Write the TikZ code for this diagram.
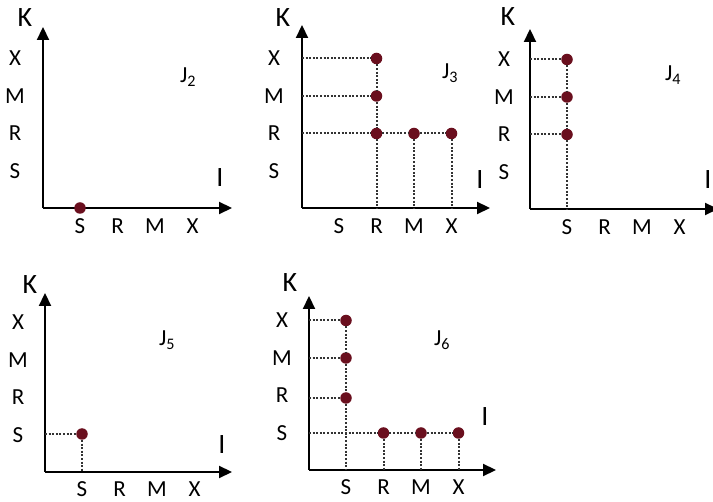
\documentclass[tikz,border=0pt]{standalone}
\usepackage{fontspec}
\setmainfont{Carlito}
\usetikzlibrary{arrows.meta, positioning}
\definecolor{dotred}{HTML}{6A0F1E}

\begin{document}
\begin{tikzpicture}[
    x=1pt, y=-1pt,
    axis/.style = {-{Triangle[length=13pt,width=12pt]}, line width=2.2pt},
    guide/.style = {dash pattern=on 2pt off 1.6pt, line width=2pt, black!80},
    pt/.style = {circle, fill=dotred, inner sep=0pt, minimum size=11.5pt},
    tick/.style = {font=\fontsize{23}{25}\selectfont, inner sep=0pt},
    axlabel/.style = {font=\fontsize{28}{30}\selectfont, inner sep=0pt},
    jlabel/.style = {font=\fontsize{23}{25}\selectfont, inner sep=0pt}
  ]
  \useasboundingbox (0,0) rectangle (713,502);

  % J2
  \begin{scope}[shift={(43,208)}]
    \coordinate (o2) at (0,0);
    \coordinate (k2) at (0,-181);
    \coordinate (i2) at (189,0);
    \draw[axis] (o2) -- (k2);
    \draw[axis] (o2) -- (i2);
    \node[axlabel] (K2) at (-18,-190) {K};
    \node[axlabel] (I2) at (177,-30) {I};
    \node[jlabel]  (J2) at (145,-131) {J\textsubscript{2}};
    \foreach \t/\p in {S/37,R/74.5,M/112,X/149.5} {
      \node[tick] (x2\t) at (\p,18) {\t};
      \node[tick] (y2\t) at (-28,-\p) {\t};
    }
    \node[pt] (p2) at (37,0) {};
  \end{scope}

  % J3
  \begin{scope}[shift={(302,208)}]
    \coordinate (o3) at (0,0);
    \coordinate (k3) at (0,-183);
    \coordinate (i3) at (188,0);
    \draw[axis] (o3) -- (k3);
    \draw[axis] (o3) -- (i3);
    \node[axlabel] (K3) at (-19,-190) {K};
    \node[axlabel] (I3) at (178,-28) {I};
    \node[jlabel]  (J3) at (148,-135) {J\textsubscript{3}};
    \foreach \t/\p in {S/37,R/74.5,M/112,X/149.5} {
      \node[tick] (x3\t) at (\p,18) {\t};
      \node[tick] (y3\t) at (-28,-\p) {\t};
    }
    \node[pt] (p3rx) at (74.5,-149.5) {};
    \node[pt] (p3rm) at (74.5,-112) {};
    \node[pt] (p3rr) at (74.5,-74.5) {};
    \node[pt] (p3mr) at (112,-74.5) {};
    \node[pt] (p3xr) at (149.5,-74.5) {};
    \draw[guide] (o3 |- p3rx) -- (p3rx);
    \draw[guide] (o3 |- p3rm) -- (p3rm);
    \draw[guide] (o3 |- p3rr) -- (p3rr) -- (p3mr) -- (p3xr);
    \draw[guide] (p3rx) -- (p3rm) -- (p3rr) -- (p3rr |- o3);
    \draw[guide] (p3mr) -- (p3mr |- o3);
    \draw[guide] (p3xr) -- (p3xr |- o3);
  \end{scope}

  % J4
  \begin{scope}[shift={(530,209)}]
    \coordinate (o4) at (0,0);
    \coordinate (k4) at (0,-180);
    \coordinate (i4) at (188,0);
    \draw[axis] (o4) -- (k4);
    \draw[axis] (o4) -- (i4);
    \node[axlabel] (K4) at (-22,-192) {K};
    \node[axlabel] (I4) at (178,-29) {I};
    \node[jlabel]  (J4) at (143,-134) {J\textsubscript{4}};
    \foreach \t/\p in {S/37,R/74.5,M/112,X/149.5} {
      \node[tick] (x4\t) at (\p,18) {\t};
      \node[tick] (y4\t) at (-26,-\p) {\t};
    }
    \node[pt] (p4sx) at (37,-149.5) {};
    \node[pt] (p4sm) at (37,-112) {};
    \node[pt] (p4sr) at (37,-74.5) {};
    \draw[guide] (o4 |- p4sx) -- (p4sx);
    \draw[guide] (o4 |- p4sm) -- (p4sm);
    \draw[guide] (o4 |- p4sr) -- (p4sr);
    \draw[guide] (p4sx) -- (p4sm) -- (p4sr) -- (p4sr |- o4);
  \end{scope}

  % J5
  \begin{scope}[shift={(45,472)}]
    \coordinate (o5) at (0,0);
    \coordinate (k5) at (0,-179);
    \coordinate (i5) at (187,0);
    \draw[axis] (o5) -- (k5);
    \draw[axis] (o5) -- (i5);
    \node[axlabel] (K5) at (-15,-187) {K};
    \node[axlabel] (I5) at (177,-27) {I};
    \node[jlabel]  (J5) at (122,-132) {J\textsubscript{5}};
    \foreach \t/\p in {S/37,R/74.5,M/112,X/149.5} {
      \node[tick] (x5\t) at (\p,17) {\t};
      \node[tick] (y5\t) at (-27,-\p) {\t};
    }
    \node[pt] (p5ss) at (37,-38) {};
    \draw[guide] (o5 |- p5ss) -- (p5ss);
    \draw[guide] (p5ss) -- (p5ss |- o5);
  \end{scope}

  % J6
  \begin{scope}[shift={(309,470)}]
    \coordinate (o6) at (0,0);
    \coordinate (k6) at (0,-174);
    \coordinate (i6) at (187,0);
    \draw[axis] (o6) -- (k6);
    \draw[axis] (o6) -- (i6);
    \node[axlabel] (K6) at (-19,-187) {K};
    \node[axlabel] (I6) at (176,-53) {I};
    \node[jlabel]  (J6) at (133,-130) {J\textsubscript{6}};
    \foreach \t/\p in {S/37,R/74.5,M/112,X/149.5} {
      \node[tick] (x6\t) at (\p,17) {\t};
      \node[tick] (y6\t) at (-27,-\p) {\t};
    }
    \node[pt] (p6sx) at (37,-149.5) {};
    \node[pt] (p6sm) at (37,-112) {};
    \node[pt] (p6sr) at (37,-72) {};
    \node[pt] (p6rs) at (74.5,-37) {};
    \node[pt] (p6ms) at (112,-37) {};
    \node[pt] (p6xs) at (149.5,-37) {};
    \draw[guide] (o6 |- p6sx) -- (p6sx);
    \draw[guide] (o6 |- p6sm) -- (p6sm);
    \draw[guide] (o6 |- p6sr) -- (p6sr);
    \draw[guide] (o6 |- p6rs) -- (p6rs) -- (p6ms) -- (p6xs);
    \draw[guide] (p6sx) -- (p6sm) -- (p6sr) -- (p6sr |- o6);
    \draw[guide] (p6rs) -- (p6rs |- o6);
    \draw[guide] (p6ms) -- (p6ms |- o6);
    \draw[guide] (p6xs) -- (p6xs |- o6);
  \end{scope}
\end{tikzpicture}
\end{document}
